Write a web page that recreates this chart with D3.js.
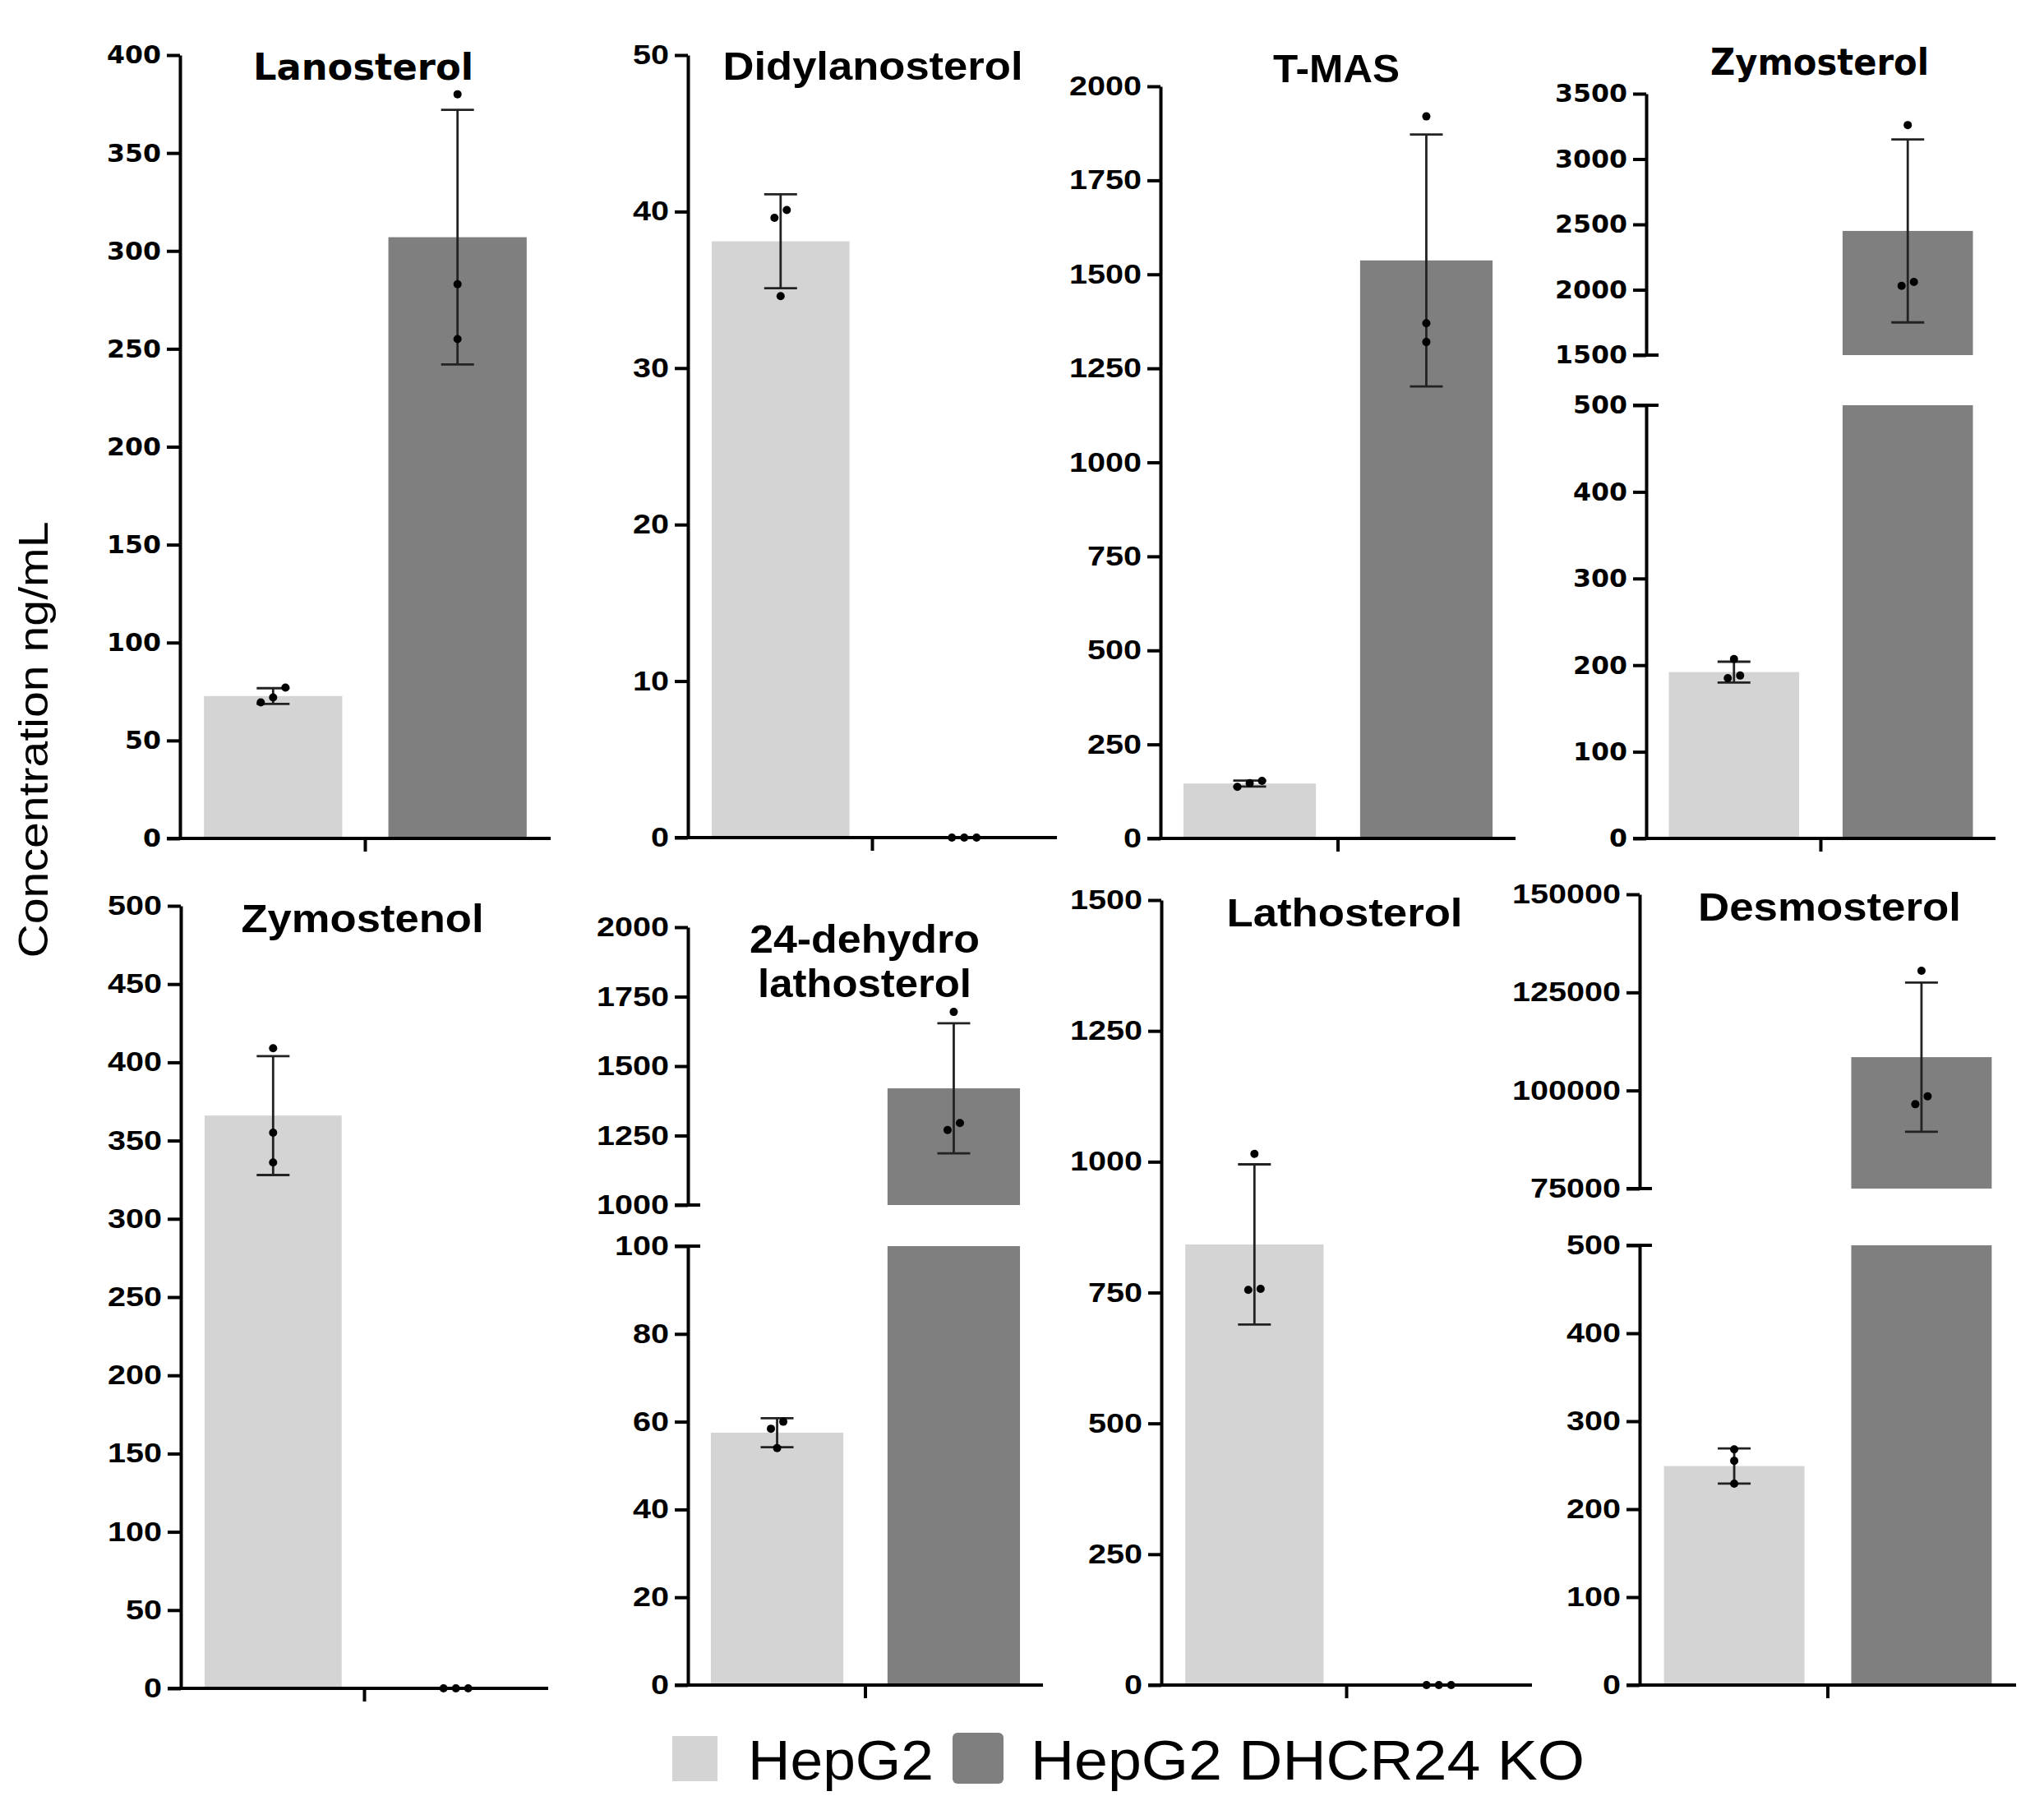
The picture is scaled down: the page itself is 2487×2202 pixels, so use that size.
<!DOCTYPE html>
<html>
<head>
<meta charset="utf-8">
<script src="https://cdn.jsdelivr.net/npm/d3@7"></script>
<style>
  html, body { margin: 0; padding: 0; background: #ffffff; }
  svg { display: block; }
</style>
</head>
<body>
<svg id="chart" width="2487" height="2202"></svg>
<script>
// ---------------- DATA ----------------
const categories = ["HepG2", "HepG2 DHCR24 KO"];
const compounds = ["Lanosterol", "Didylanosterol", "T-MAS", "Zymosterol",
                   "Zymostenol", "24-dehydro lathosterol", "Lathosterol", "Desmosterol"];
const hepg2Mean = [72.7, 38.1, 146, 192, 366, 57.5, 842, 249];
const hepg2SD   = [4, 3, 8, 12, 38, 3.3, 153, 20];
const koMean    = [307, 0, 1537, 2450, 0, 1420, 0, 108500];
const koSD      = [65, 0, 335, 700, 0, 234, 0, 19000];
const hepg2Points = [[77, 69.5, 72], [40.1, 39.6, 34.6], [153, 137, 147], [207, 185, 188],
                     [409, 355, 336], [60, 58.4, 54], [1015, 755, 757], [268, 255, 229]];
const koPoints    = [[380, 283, 255], [0, 0, 0], [1920, 1370, 1320], [3260, 2060, 2030],
                     [0, 0, 0], [1695, 1295, 1270], [0, 0, 0], [130500, 98500, 96500]];
// y-axis segments (lower segment always; upper segment for broken axes)
const lowerDomains = [[0, 400], [0, 50], [0, 2000], [0, 500], [0, 500], [0, 100], [0, 1500], [0, 500]];
const lowerStep    = [50, 10, 250, 100, 50, 20, 250, 100];
const upperDomains = [null, null, null, [1500, 3500], null, [1000, 2000], null, [75000, 150000]];
const upperStep    = [null, null, null, 500, null, 250, null, 25000];
const yLabel = "Concentration ng/mL";

// ---------------- LAYOUT (pixels / styles) ----------------
const layout = [
  {x0: 219,  x1: 670,  lower: [1020, 67],   upper: null,        tx: 442,  ty: [97],   tw: [268], wide: true},
  {x0: 837,  x1: 1286, lower: [1019, 67],   upper: null,        tx: 1062, ty: [97],   tw: [365]},
  {x0: 1412, x1: 1844, lower: [1020, 105],  upper: null,        tx: 1626, ty: [100],  tw: [154]},
  {x0: 2003, x1: 2428, lower: [1020, 493],  upper: [432, 114],  tx: 2214, ty: [91],   tw: [266], wide: true},
  {x0: 220,  x1: 667,  lower: [2054, 1102], upper: null,        tx: 441,  ty: [1134], tw: [295]},
  {x0: 837,  x1: 1269, lower: [2050, 1516], upper: [1466, 1128],tx: 1052, ty: [1159, 1213], tw: [280, 260]},
  {x0: 1413, x1: 1864, lower: [2050, 1095], upper: null,        tx: 1636, ty: [1127], tw: [287]},
  {x0: 1995, x1: 2453, lower: [2050, 1515], upper: [1446, 1088],tx: 2226, ty: [1120], tw: [320]}
];
const colors = {"HepG2": "#d4d4d4", "HepG2 DHCR24 KO": "#7f7f7f"};
const TICK = 16, AXW = 4, CW = 22, R = 5, DODGE = 15;

const svg = d3.select("#chart");
svg.append("rect").attr("width", 2487).attr("height", 2202).attr("fill", "#fff");

function styleAxis(g, wide) {
  g.select(".domain").attr("stroke", "#000").attr("stroke-width", AXW);
  g.selectAll(".tick line").attr("stroke", "#000").attr("stroke-width", AXW);
  g.selectAll(".tick text")
    .attr("fill", "#000")
    .attr("font-family", wide ? "DejaVu Sans" : "Liberation Sans")
    .attr("font-weight", "bold")
    .attr("font-size", wide ? 31 : 33)
    .attr("textLength", function () { return this.textContent.length * CW; })
    .attr("lengthAdjust", "spacingAndGlyphs");
}

compounds.forEach((name, i) => {
  const L = layout[i];
  const g = svg.append("g");
  const x = d3.scaleBand().domain(categories).range([L.x0, L.x1]).paddingInner(0.25).paddingOuter(0.13);
  const ld = lowerDomains[i];
  const yl = d3.scaleLinear().domain(ld).range(L.lower);
  const yu = upperDomains[i] ? d3.scaleLinear().domain(upperDomains[i]).range(L.upper) : null;
  const yPos = v => (yu && v > ld[1]) ? yu(v) : yl(v);

  const means = [hepg2Mean[i], koMean[i]];
  const sds = [hepg2SD[i], koSD[i]];
  const pts = [hepg2Points[i], koPoints[i]];

  // bars
  categories.forEach((c, k) => {
    const m = means[k];
    if (m > 0) {
      const top = Math.min(m, ld[1]);
      g.append("rect").attr("x", x(c)).attr("width", x.bandwidth())
        .attr("y", yl(top)).attr("height", yl(0) - yl(top)).attr("fill", colors[c]);
      if (yu && m > ld[1]) {
        const u0 = upperDomains[i][0];
        g.append("rect").attr("x", x(c)).attr("width", x.bandwidth())
          .attr("y", yu(m)).attr("height", yu(u0) - yu(m)).attr("fill", colors[c]);
      }
    }
  });

  // error bars
  categories.forEach((c, k) => {
    const m = means[k], s = sds[k];
    if (s <= 0) return;
    const cx = x(c) + x.bandwidth() / 2;
    const yTop = yPos(m + s), yBot = yPos(m - s);
    const eg = g.append("g").attr("stroke", "#222").attr("stroke-width", 2.8);
    eg.append("line").attr("x1", cx).attr("x2", cx).attr("y1", yTop).attr("y2", yBot);
    [yTop, yBot].forEach(yy => eg.append("line").attr("x1", cx - 20).attr("x2", cx + 20).attr("y1", yy).attr("y2", yy));
  });

  // points: cluster overlapping replicates and spread them symmetrically
  categories.forEach((c, k) => {
    const cx = x(c) + x.bandwidth() / 2;
    const items = pts[k].map(v => ({v, py: yPos(v)})).sort((a, b) => a.py - b.py);
    const clusters = [];
    items.forEach(it => {
      const last = clusters[clusters.length - 1];
      if (last && it.py - last[last.length - 1].py < 2 * R + 2) last.push(it);
      else clusters.push([it]);
    });
    clusters.forEach(cl => {
      cl.sort((a, b) => a.v - b.v);
      cl.forEach((it, j) => {
        const px = cx + (j - (cl.length - 1) / 2) * DODGE;
        g.append("circle").attr("cx", px).attr("cy", it.py).attr("r", R).attr("fill", "#000");
      });
    });
  });

  // y axis lower
  const ticksL = d3.range(ld[0], ld[1] + lowerStep[i] / 2, lowerStep[i]);
  const gl = g.append("g").attr("transform", `translate(${L.x0},0)`)
    .call(d3.axisLeft(yl).tickValues(ticksL).tickSize(TICK).tickSizeOuter(0).tickPadding(7).tickFormat(d3.format("d")));
  styleAxis(gl, L.wide);
  if (yu) {
    const ud = upperDomains[i];
    const ticksU = d3.range(ud[0], ud[1] + upperStep[i] / 2, upperStep[i]);
    const gu = g.append("g").attr("transform", `translate(${L.x0},0)`)
      .call(d3.axisLeft(yu).tickValues(ticksU).tickSize(TICK).tickSizeOuter(0).tickPadding(7).tickFormat(d3.format("d")));
    styleAxis(gu, L.wide);
    // break marks extending to the right
    [yu(ud[0]), yl(ld[1])].forEach(yy => {
      g.append("line").attr("x1", L.x0 - TICK).attr("x2", L.x0 + 15).attr("y1", yy).attr("y2", yy)
        .attr("stroke", "#000").attr("stroke-width", AXW);
    });
  }

  // x axis
  const y0 = yl(0);
  g.append("line").attr("x1", L.x0 - TICK).attr("x2", L.x1).attr("y1", y0).attr("y2", y0)
    .attr("stroke", "#000").attr("stroke-width", AXW);
  const mid = (L.x0 + L.x1) / 2;
  g.append("line").attr("x1", mid).attr("x2", mid).attr("y1", y0).attr("y2", y0 + TICK)
    .attr("stroke", "#000").attr("stroke-width", AXW);

  // title
  const lines = L.ty.length > 1 ? name.split(" ") : [name];
  lines.forEach((t, j) => {
    g.append("text").attr("x", L.tx).attr("y", L.ty[j]).attr("text-anchor", "middle")
      .attr("font-family", L.wide ? "DejaVu Sans" : "Liberation Sans").attr("font-weight", "bold")
      .attr("font-size", L.wide ? 45 : 48).attr("fill", "#000")
      .attr("textLength", L.tw[j]).attr("lengthAdjust", "spacingAndGlyphs")
      .text(t);
  });
});

// y label
svg.append("text")
  .attr("transform", "translate(58,900) rotate(-90)")
  .attr("text-anchor", "middle")
  .attr("font-family", "Liberation Sans").attr("font-size", 50).attr("fill", "#000")
  .attr("textLength", 531).attr("lengthAdjust", "spacingAndGlyphs")
  .text(yLabel);

// legend
const legend = svg.append("g");
const legendItems = [
  {c: categories[0], rx: 818, ry: 2112, rs: 55, rr: 0, tx: 910, tw: 226},
  {c: categories[1], rx: 1159, ry: 2108, rs: 62, rr: 6, tx: 1254, tw: 674}
];
legendItems.forEach(d => {
  legend.append("rect").attr("x", d.rx).attr("y", d.ry).attr("width", d.rs).attr("height", d.rs)
    .attr("rx", d.rr).attr("fill", colors[d.c]);
  legend.append("text").attr("x", d.tx).attr("y", 2165)
    .attr("font-family", "Liberation Sans").attr("font-size", 68).attr("fill", "#000")
    .attr("textLength", d.tw).attr("lengthAdjust", "spacingAndGlyphs")
    .text(d.c);
});
</script>
</body>
</html>
